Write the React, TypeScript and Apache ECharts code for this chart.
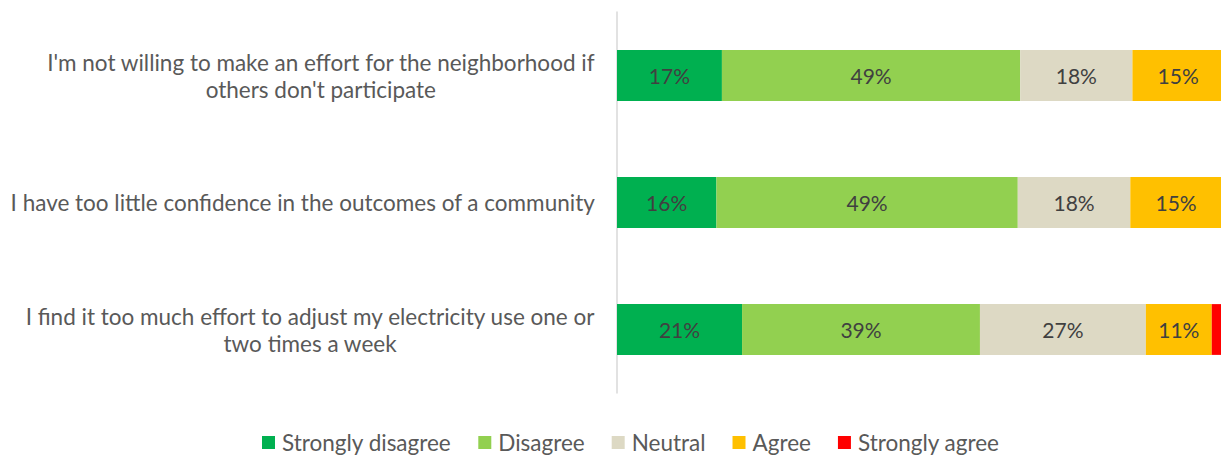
import React, { useEffect, useRef } from "react";
import * as echarts from "echarts";

const categories = [
  "I'm not willing to make an effort for the neighborhood if\nothers don't participate",
  "I have too little confidence in the outcomes of a community",
  "I find it too much effort to adjust my electricity use one or\ntwo times a week",
];
const seriesNames = ["Strongly disagree", "Disagree", "Neutral", "Agree", "Strongly agree"];
const stronglyDisagree = [17.2, 16.3, 20.5];
const disagree = [48.9, 49.4, 39.0];
const neutral = [18.4, 18.45, 27.2];
const agree = [15.0, 15.0, 10.8];
const stronglyAgree = [0.5, 0.85, 2.5];
const colors = ["#00B050", "#92D050", "#DDD9C4", "#FFC000", "#FF0000"];

const FONT = "Lato, 'Open Sans', sans-serif";

export default function App() {
  const ref = useRef<HTMLDivElement>(null);
  useEffect(() => {
    if (!ref.current) return;
    const chart = echarts.init(ref.current, undefined, { renderer: "svg" });
    const values = [stronglyDisagree, disagree, neutral, agree, stronglyAgree];
    chart.setOption({
      animation: false,
      backgroundColor: "#ffffff",
      textStyle: { fontFamily: FONT },
      grid: { left: 617, top: 12, width: 610, bottom: 63, containLabel: false },
      legend: {
        left: 257,
        top: 426,
        itemWidth: 13,
        itemHeight: 13,
        itemGap: 27,
        icon: "rect",
        data: seriesNames,
        textStyle: { fontSize: 22.5, color: "#595959", fontFamily: FONT, padding: [0, 0, 0, 2] },
      },
      xAxis: {
        type: "value",
        min: 0,
        max: 100,
        show: false,
      },
      yAxis: {
        type: "category",
        inverse: true,
        data: categories,
        axisTick: { show: false },
        axisLine: { show: true, lineStyle: { color: "#D9D9D9", width: 1.5 } },
        axisLabel: {
          margin: 22,
          align: "right",
          formatter: (v: string) =>
            v
              .split("\n")
              .map((l) => `{a|${l}}`)
              .join("\n"),
          rich: {
            a: { align: "center", fontSize: 22.5, color: "#595959", fontFamily: FONT, lineHeight: 27 },
          },
        },
      },
      series: seriesNames.map((name, i) => ({
        name,
        type: "bar",
        stack: "total",
        barCategoryGap: "60%",
        itemStyle: { color: colors[i] },
        label: {
          show: i < 4,
          position: "inside",
          fontSize: 21,
          color: "#404040",
          fontFamily: FONT,
          formatter: (p: any) => `${Math.round(p.value)}%`,
        },
        data: values[i],
      })),
    });
    return () => chart.dispose();
  }, []);
  return (
    <div style={{ position: "absolute", left: 0, top: 0, width: 1221, height: 456, overflow: "hidden", background: "#fff" }}>
      <div ref={ref} style={{ position: "absolute", left: 0, top: 0, width: 1240, height: 456 }} />
    </div>
  );
}
